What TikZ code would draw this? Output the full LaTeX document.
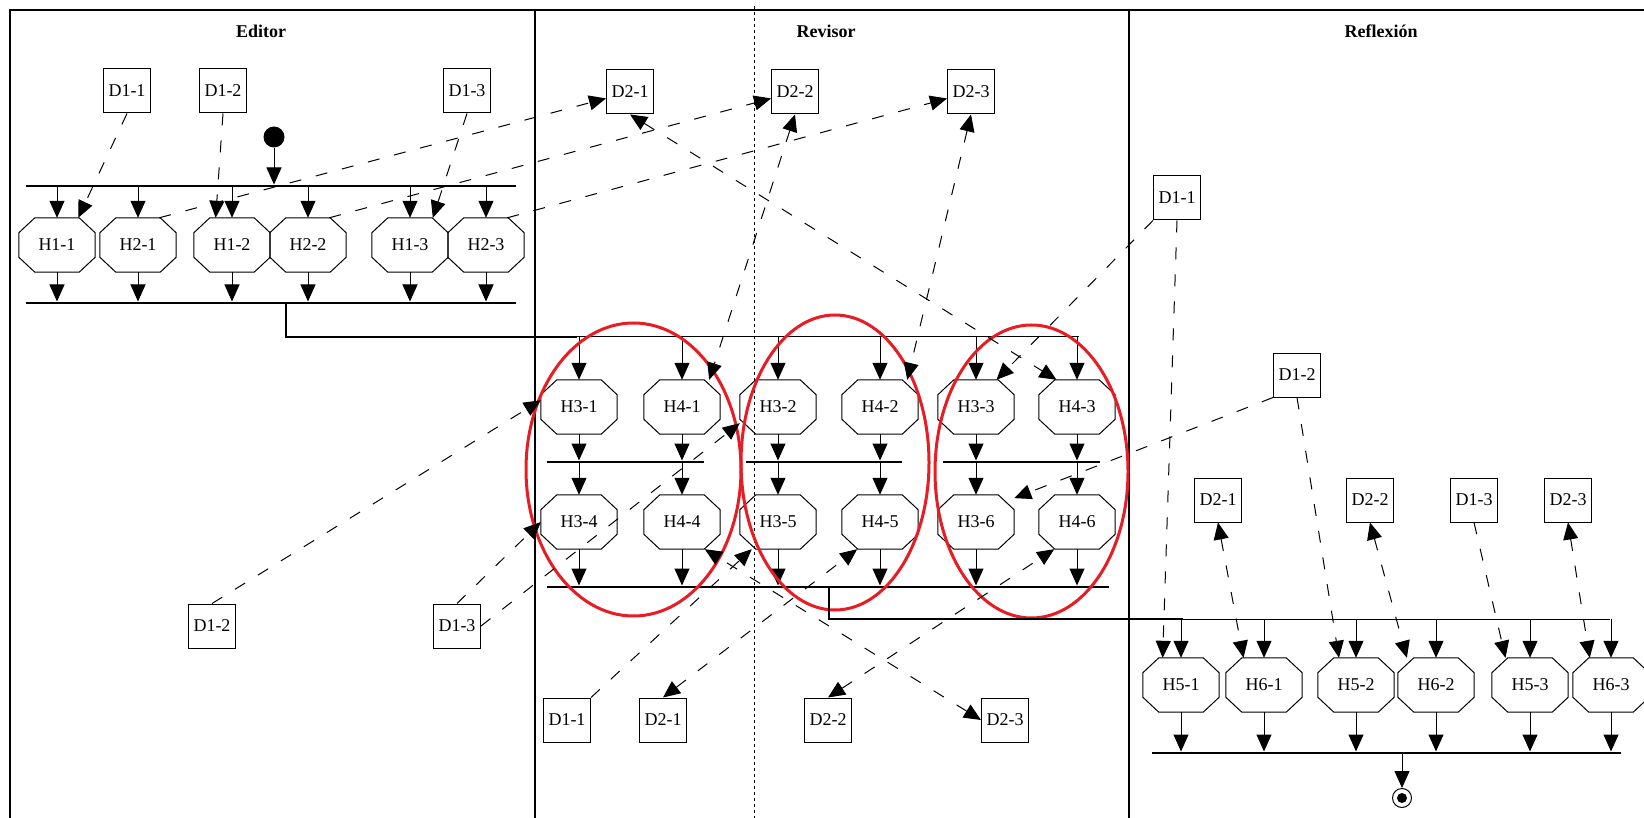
\documentclass[tikz,border=0pt]{standalone}
\usepackage{fontspec}
\setmainfont{Liberation Serif}
\usetikzlibrary{arrows.meta}
\newcommand\octnode[4]{%
  \node[octbox] (#1) at (#2,#3) {#4};
  \draw[octln] ([xshift=16pt]#1.north west) -- ([xshift=-16pt]#1.north east) -- ([yshift=-15pt]#1.north east) -- ([yshift=15pt]#1.south east) -- ([xshift=-16pt]#1.south east) -- ([xshift=16pt]#1.south west) -- ([yshift=15pt]#1.south west) -- ([yshift=-15pt]#1.north west) -- cycle;}
\definecolor{ellred}{RGB}{232,28,36}
\tikzset{
  docbox/.style={draw,line width=1pt,rectangle,minimum width=47pt,minimum height=44pt,inner sep=0pt,font=\fontsize{18}{21}\selectfont},
  octbox/.style={rectangle,minimum width=76pt,minimum height=54pt,inner sep=0pt,font=\fontsize{18}{21}\selectfont},
  octln/.style={line width=1pt},
  bar/.style={rectangle,fill=black,inner sep=0pt,minimum height=2.6pt},
  arr/.style={line width=1pt,->},
  darr/.style={line width=1pt,->,dash pattern=on 12pt off 15pt},
  dbi/.style={line width=1pt,<->,dash pattern=on 12pt off 15pt},
  lane/.style={line width=1.2pt},
  thickln/.style={line width=2pt},
  thinln/.style={line width=1pt},
  lanetitle/.style={font=\bfseries\fontsize{18}{21}\selectfont},
  redell/.style={draw=ellred,line width=3pt}
}
\begin{document}
\begin{tikzpicture}[x=1pt,y=-1pt,>={Triangle[length=17pt,width=15pt]}]
\fill[white] (0,0) rectangle (1644,818);
\useasboundingbox (0,0) rectangle (1644,818);
% lanes
\draw[lane] (10,818) -- (10,10) -- (1644,10);
\draw[lane] (535,10) -- (535,818);
\draw[lane] (1129,10) -- (1129,818);
\draw[line width=1pt,dash pattern=on 3pt off 3pt] (754,6) -- (754,818);
\node[lanetitle] (tEditor) at (261,31) {Editor};
\node[lanetitle] (tRevisor) at (826,31) {Revisor};
\node[lanetitle] (tReflex) at (1381,31) {Reflexión};
% ===== Editor =====
\node[docbox] (eD11) at (127,91) {D1-1};
\node[docbox] (eD12) at (223,91) {D1-2};
\node[docbox] (eD13) at (467,91) {D1-3};
\node[circle,fill=black,minimum size=21pt,inner sep=0pt] (start) at (274,137) {};
\node[bar,minimum width=490pt] (efork) at (271,186) {};
\octnode{h11}{57}{245}{H1-1}
\octnode{h21}{138}{245}{H2-1}
\octnode{h12}{232}{245}{H1-2}
\octnode{h22}{308}{245}{H2-2}
\octnode{h13}{410}{245}{H1-3}
\octnode{h23}{486}{245}{H2-3}
\node[bar,minimum width=490pt] (ejoin) at (271,303) {};
\draw[arr] (start) -- (start |- efork.north);
\foreach \n in {h11,h21,h12,h22,h13,h23}{
  \draw[arr] (\n |- efork) -- (\n.north);
  \draw[arr] (\n.south) -- (\n |- ejoin.north);
}
\node[docbox] (lD12) at (212,626) {D1-2};
\node[docbox] (lD13) at (457,626) {D1-3};
% ===== Revisor =====
\node[docbox] (rD21t) at (630,92) {D2-1};
\node[docbox] (rD22t) at (795,92) {D2-2};
\node[docbox] (rD23t) at (971,92) {D2-3};
\coordinate (eout) at (286,303);
\coordinate (rin) at (577,337);
\coordinate (rend) at (1079,337);
\draw[thickln] (eout) |- (rin);
\draw[thinln] (rin) -- (rend);
\octnode{h31}{579}{407}{H3-1}
\octnode{h41}{682}{407}{H4-1}
\octnode{h32}{778}{407}{H3-2}
\octnode{h42}{880}{407}{H4-2}
\octnode{h33}{976}{407}{H3-3}
\octnode{h43}{1077}{407}{H4-3}
\node[bar,minimum width=157pt] (rb1) at (625.5,462) {};
\node[bar,minimum width=156pt] (rb2) at (824,462) {};
\node[bar,minimum width=157pt] (rb3) at (1021.5,462) {};
\octnode{h34}{579}{522}{H3-4}
\octnode{h44}{682}{522}{H4-4}
\octnode{h35}{778}{522}{H3-5}
\octnode{h45}{880}{522}{H4-5}
\octnode{h36}{976}{522}{H3-6}
\octnode{h46}{1077}{522}{H4-6}
\node[bar,minimum width=562pt] (rjoin) at (828,587) {};
\foreach \a/\b/\r in {h31/h34/rb1,h41/h44/rb1,h32/h35/rb2,h42/h45/rb2,h33/h36/rb3,h43/h46/rb3}{
  \draw[arr] (\a |- rin) -- (\a.north);
  \draw[arr] (\a.south) -- (\a |- \r.north);
  \draw[arr] (\a |- \r) -- (\b.north);
  \draw[arr] (\b.south) -- (\b |- rjoin.north);
}
\node[docbox] (bD11) at (567,720) {D1-1};
\node[docbox] (bD21) at (663,720) {D2-1};
\node[docbox] (bD22) at (828,720) {D2-2};
\node[docbox] (bD23) at (1005,720) {D2-3};
% red groupings
\draw[redell] (633.5,469.5) ellipse [x radius=107.5pt, y radius=146.5pt];
\draw[redell] (835,462.5) ellipse [x radius=94pt, y radius=147.5pt];
\draw[redell] (1031.5,471.5) ellipse [x radius=96.5pt, y radius=146.5pt];
% ===== Reflexion =====
\node[docbox] (fD11) at (1177,198) {D1-1};
\node[docbox] (fD12) at (1297,375) {D1-2};
\node[docbox] (fD21) at (1218,500) {D2-1};
\node[docbox] (fD22) at (1370,500) {D2-2};
\node[docbox] (fD13) at (1474,500) {D1-3};
\node[docbox] (fD23) at (1568,500) {D2-3};
\coordinate (rout) at (829,587);
\coordinate (fin) at (1183,619);
\coordinate (fend) at (1610,619);
\draw[thickln] (rout) |- (fin);
\draw[thinln] (fin) -- (fend);
\octnode{h51}{1181}{685}{H5-1}
\octnode{h61}{1264}{685}{H6-1}
\octnode{h52}{1356}{685}{H5-2}
\octnode{h62}{1436}{685}{H6-2}
\octnode{h53}{1530}{685}{H5-3}
\octnode{h63}{1611}{685}{H6-3}
\node[bar,minimum width=469pt] (fjoin) at (1386.5,753) {};
\foreach \n in {h51,h61,h52,h62,h53,h63}{
  \draw[arr] (\n |- fin) -- (\n.north);
  \draw[arr] (\n.south) -- (\n |- fjoin.north);
}
\node[circle,draw,line width=1pt,fill=white,minimum size=19pt,inner sep=0pt] (end) at (1402,798) {};
\fill (end.center) circle (5pt);
\draw[arr] (end |- fjoin) -- (end.north);
% ===== dashed object flows =====
\draw[darr] (eD11.south) -- (h11.52);
\draw[darr] (eD12.south) -- (h12.121);
\draw[darr] (eD13.south) -- (h13.50);
\draw[darr] (h21.52) -- (rD21t);
\draw[darr] (h22.52) -- (rD22t);
\draw[darr] (h23.52) -- (rD23t);
\draw[dbi] (rD21t.south) -- (h43.127);
\draw[dbi] (rD22t.south) -- (h41.45);
\draw[dbi] (rD23t.south) -- (h42.45);
\draw[darr] (fD11.south west) -- (h33.53);
\draw[darr] (fD11.south) -- (h51.124);
\draw[darr] (fD12.south west) -- (h36.32);
\draw[darr] (fD12.south) -- (h52.122);
\draw[darr] (lD12.north) -- (h31.170);
\draw[darr] (lD13.north) -- (h34.west);
\draw[darr] (lD13.east) -- (h32.203);
\draw[darr] (bD11.north east) -- (h35.226);
\draw[dbi] (bD21.north) -- (h45.230);
\draw[dbi] (bD22.north) -- (h46.230);
\draw[dbi] (bD23.west) -- (h44.-50);
\draw[dbi] (fD21.south) -- (h61.127);
\draw[dbi] (fD22.south) -- (h62.137);
\draw[darr] (fD13.south) -- (h53.132);
\draw[dbi] (fD23.south) -- (h63.128);
\end{tikzpicture}
\end{document}
